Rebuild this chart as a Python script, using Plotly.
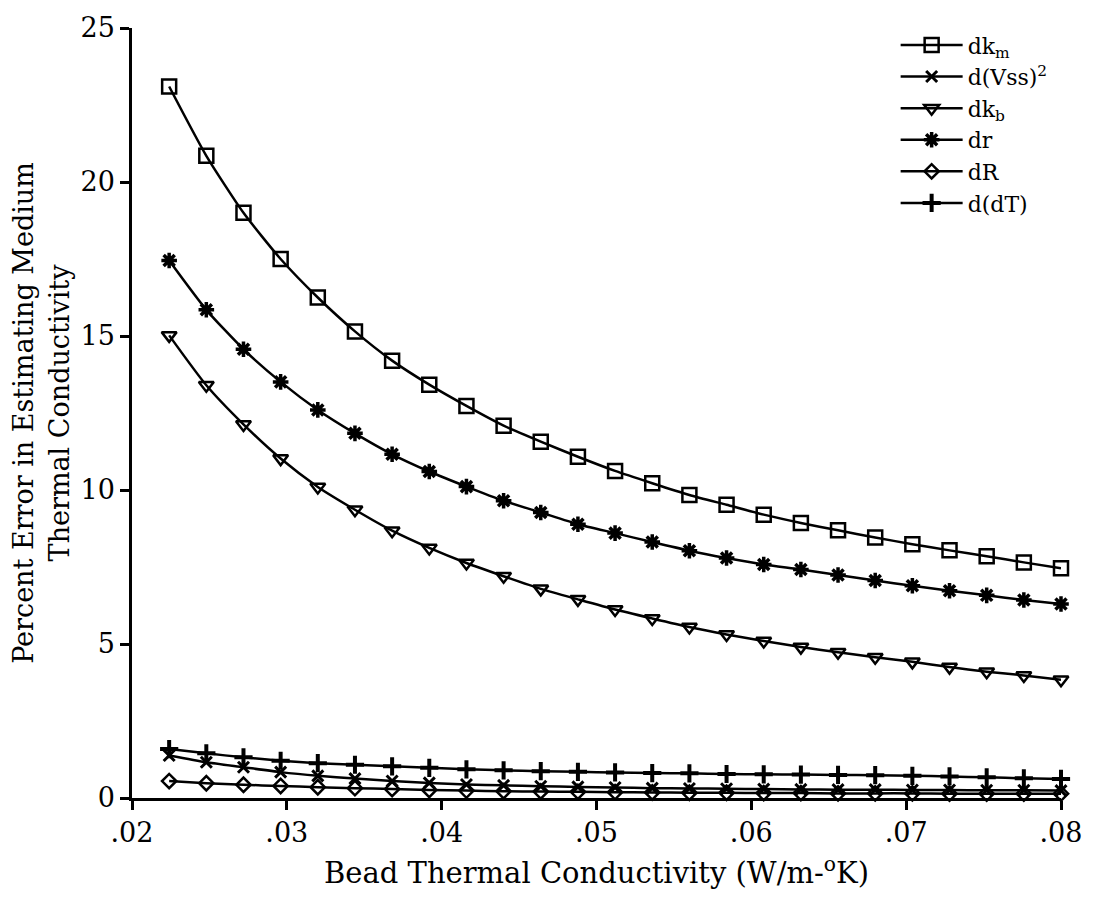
import plotly.graph_objects as go

# Bead thermal conductivity (W/m-K)
kb = [0.0224, 0.0248, 0.0272, 0.0296, 0.0320, 0.0344, 0.0368, 0.0392, 0.0416,
      0.0440, 0.0464, 0.0488, 0.0512, 0.0536, 0.0560, 0.0584, 0.0608, 0.0632,
      0.0656, 0.0680, 0.0704, 0.0728, 0.0752, 0.0776, 0.0800]

dk_m = [23.1, 20.85, 19.0, 17.5, 16.25, 15.15, 14.2, 13.42, 12.73, 12.09, 11.57,
        11.08, 10.62, 10.22, 9.84, 9.52, 9.2, 8.93, 8.69, 8.46, 8.24, 8.04, 7.85,
        7.65, 7.46]
d_vss2 = [1.38, 1.16, 1.0, 0.84, 0.72, 0.63, 0.55, 0.49, 0.44, 0.41, 0.38, 0.36,
          0.34, 0.32, 0.31, 0.30, 0.29, 0.28, 0.27, 0.27, 0.26, 0.26, 0.25, 0.25, 0.24]
dk_b = [15.02, 13.4, 12.13, 11.02, 10.1, 9.36, 8.68, 8.12, 7.63, 7.2, 6.79, 6.45,
        6.12, 5.83, 5.55, 5.31, 5.1, 4.9, 4.73, 4.57, 4.42, 4.25, 4.1, 3.98, 3.84]
dr = [17.45, 15.85, 14.57, 13.51, 12.6, 11.84, 11.16, 10.6, 10.11, 9.65, 9.27,
      8.89, 8.6, 8.31, 8.03, 7.79, 7.58, 7.42, 7.24, 7.06, 6.89, 6.73, 6.58,
      6.43, 6.3]
dR = [0.55, 0.48, 0.43, 0.39, 0.35, 0.32, 0.29, 0.26, 0.24, 0.22, 0.21, 0.20,
      0.19, 0.18, 0.17, 0.17, 0.16, 0.16, 0.15, 0.15, 0.15, 0.14, 0.14, 0.14, 0.14]
d_dT = [1.59, 1.45, 1.32, 1.21, 1.13, 1.08, 1.03, 0.98, 0.93, 0.90, 0.87, 0.85,
        0.83, 0.81, 0.80, 0.78, 0.77, 0.76, 0.75, 0.74, 0.72, 0.70, 0.67, 0.64, 0.62]

x_ticks = [0.02, 0.03, 0.04, 0.05, 0.06, 0.07, 0.08]
x_labels = [".02", ".03", ".04", ".05", ".06", ".07", ".08"]
y_ticks = [0, 5, 10, 15, 20, 25]

series = [
    ("dk<sub>m</sub>", dk_m, "square-open", 14, 2.5),
    ("d(Vss)<sup>2</sup>", d_vss2, "x-thin-open", 11, 3),
    ("dk<sub>b</sub>", dk_b, "triangle-down-open", 13, 2.5),
    ("dr", dr, "asterisk-open", 13, 3.5),
    ("dR", dR, "diamond-open", 11, 2.5),
    ("d(dT)", d_dT, "cross-thin-open", 13, 4),
]

FONT = "DejaVu Serif"
fig = go.Figure()
for name, ys, sym, size, lw in series:
    fig.add_trace(go.Scatter(
        x=kb, y=ys, name=name, mode="lines+markers",
        line=dict(color="black", width=2.5, shape="spline", smoothing=0.6),
        marker=dict(symbol=sym, size=size, color="black",
                    line=dict(color="black", width=lw)),
        cliponaxis=False,
    ))

fig.update_layout(
    width=1094, height=898,
    margin=dict(l=132, r=28, t=25, b=100),
    paper_bgcolor="white", plot_bgcolor="white",
    font=dict(family=FONT, color="black", size=24),
    showlegend=True,
    legend=dict(x=0.822, y=1.005, xanchor="left", yanchor="top",
                font=dict(family=FONT, size=22), bgcolor="rgba(0,0,0,0)",
                itemwidth=62, tracegroupgap=4),
)
fig.update_xaxes(
    range=[0.02, 0.08], tickvals=x_ticks, ticktext=x_labels,
    showline=True, linecolor="black", linewidth=2.5, showgrid=False, zeroline=False,
    ticks="outside", ticklen=9, tickwidth=2.5, tickcolor="black",
    tickfont=dict(family=FONT, size=27),
    title=dict(text="Bead Thermal Conductivity (W/m-<sup>o</sup>K)",
               font=dict(family=FONT, size=29), standoff=16),
)
fig.update_yaxes(
    range=[0, 25], tickvals=y_ticks,
    showline=True, linecolor="black", linewidth=2.5, showgrid=False, zeroline=False,
    ticks="outside", ticklen=9, tickwidth=2.5, tickcolor="black",
    tickfont=dict(family=FONT, size=27),
    title=dict(text="Percent Error in Estimating Medium<br>Thermal Conductivity",
               font=dict(family=FONT, size=27), standoff=4),
)
fig.write_html("out.html")
